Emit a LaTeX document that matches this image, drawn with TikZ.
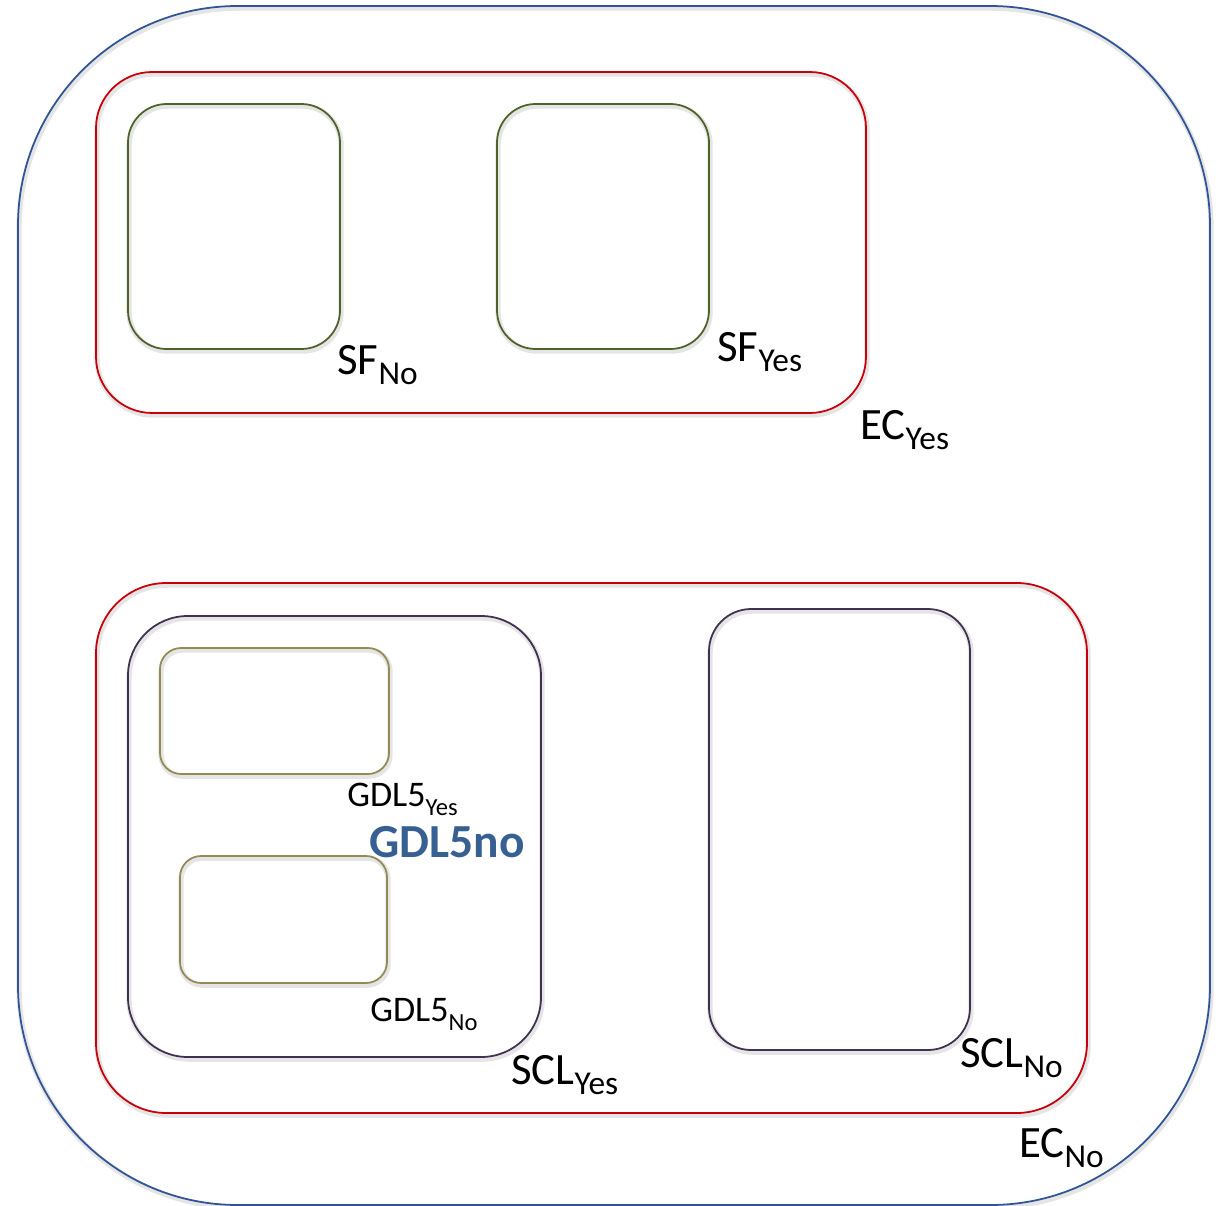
\documentclass[tikz,border=0pt]{standalone}
\usepackage{fontspec}
\setmainfont{Carlito}
\usepackage{xcolor}
\usepackage{tikz}

\definecolor{ecblue}{RGB}{47,85,151}
\definecolor{ecred}{RGB}{200,0,10}
\definecolor{sfgreen}{RGB}{79,98,40}
\definecolor{sclpurple}{RGB}{64,49,82}
\definecolor{gdlkhaki}{RGB}{148,138,84}
\definecolor{gdltext}{RGB}{55,96,146}

\newcommand{\bigsub}[1]{\raisebox{-5.7pt}{\fontsize{19}{21}\selectfont #1}}
\newcommand{\smallsub}[1]{\raisebox{-5.5pt}{\fontsize{14}{16}\selectfont #1}}

\begin{document}
\begin{tikzpicture}[x = 0.02cm, y = -0.02cm,
    halo/.style = {draw = black!10, line width = 3pt, transform canvas = {xshift = 0.6pt, yshift = -1.2pt}},
    ecout/.style = {draw = ecblue, line width = 1pt, rounded corners = 125pt},
    ecbox/.style = {draw = ecred, line width = 1pt, rounded corners = #1},
    sfbox/.style = {draw = sfgreen, line width = 1pt, rounded corners = 22pt},
    sclbox/.style = {draw = sclpurple, line width = 1pt, rounded corners = #1},
    gdlbox/.style = {draw = gdlkhaki, line width = 1pt, rounded corners = 12pt},
    biglab/.style = {anchor = base west, inner sep = 0pt, font = \fontsize{25.5}{30}\selectfont},
    smalllab/.style = {anchor = base west, inner sep = 0pt, font = \fontsize{20.5}{24}\selectfont}]
    \useasboundingbox (0, 0) rectangle (1220, 1206);

    % soft shadows under the outlines
    \draw[halo, rounded corners = 125pt] (18, 6) rectangle (1210, 1205);
    \draw[halo, rounded corners = 32pt] (96, 72) rectangle (866, 413);
    \draw[halo, rounded corners = 22pt] (128, 104) rectangle (340, 349);
    \draw[halo, rounded corners = 22pt] (497, 104) rectangle (709, 349);
    \draw[halo, rounded corners = 40pt] (96, 583) rectangle (1087, 1113);
    \draw[halo, rounded corners = 34pt] (128, 616) rectangle (541, 1057);
    \draw[halo, rounded corners = 12pt] (160, 648) rectangle (389, 774);
    \draw[halo, rounded corners = 12pt] (180, 856) rectangle (387, 983);
    \draw[halo, rounded corners = 24pt] (709, 609) rectangle (970, 1050);

    % EC sets
    \draw[ecout] (18, 6) rectangle (1210, 1205);
    \draw[ecbox = 32pt] (96, 72) rectangle (866, 413);
    \draw[ecbox = 40pt] (96, 583) rectangle (1087, 1113);

    % SF sets
    \draw[sfbox] (128, 104) rectangle (340, 349);
    \draw[sfbox] (497, 104) rectangle (709, 349);

    % SCL sets
    \draw[sclbox = 34pt] (128, 616) rectangle (541, 1057);
    \draw[sclbox = 24pt] (709, 609) rectangle (970, 1050);

    % GDL5 sets
    \draw[gdlbox] (160, 648) rectangle (389, 774);
    \draw[gdlbox] (180, 856) rectangle (387, 983);

    % Labels
    \node[biglab] (sfno) at (337, 374) {SF\bigsub{No}};
    \node[biglab] (sfyes) at (717, 361) {SF\bigsub{Yes}};
    \node[biglab] (ecyes) at (860, 439) {EC\bigsub{Yes}};
    \node[smalllab] (gdlyes) at (347, 806) {GDL5\smallsub{Yes}};
    \node[anchor = base west, inner sep = 0pt, font = \fontsize{27}{30}\selectfont\bfseries, text = gdltext] (gdlno) at (369, 857) {GDL5no};
    \node[smalllab] (gdlnosub) at (370, 1021) {GDL5\smallsub{No}};
    \node[biglab] (sclyes) at (511, 1084) {SCL\bigsub{Yes}};
    \node[biglab] (sclno) at (960, 1067) {SCL\bigsub{No}};
    \node[biglab] (ecno) at (1019, 1157) {EC\bigsub{No}};
\end{tikzpicture}
\end{document}
